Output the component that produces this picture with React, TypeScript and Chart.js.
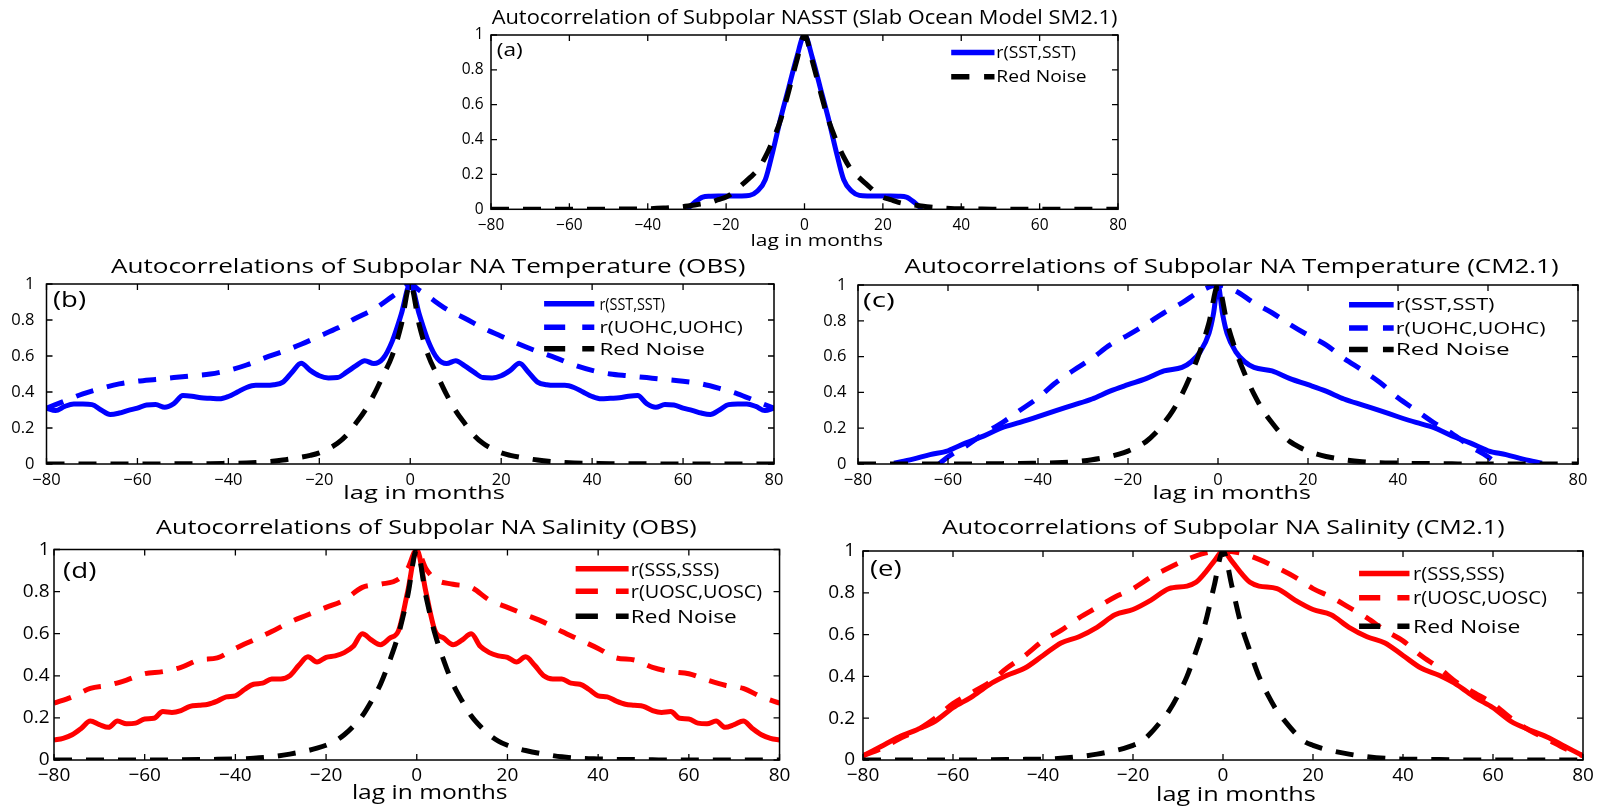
import React, { useEffect, useRef } from "react";
import { Chart, registerables } from "chart.js";

Chart.register(...registerables);

// ---------------- DATA ----------------
const RN_LAGS = [-80,-76,-72,-68,-64,-60,-56,-52,-48,-44,-40,-36,-32,-28,-24,-22,-20,-18,-16,-14,-12,-10,-8,-6,-4,-2,0,2,4,6,8,10,12,14,16,18,20,22,24,28,32,36,40,44,48,52,56,60,64,68,72,76,80];
const RN_A = [0,0,0,0,0,0,0,0.001,0.001,0.002,0.003,0.007,0.013,0.025,0.04,0.055,0.07,0.1,0.14,0.18,0.225,0.3,0.4,0.52,0.68,0.85,1,0.85,0.68,0.52,0.4,0.3,0.225,0.18,0.14,0.1,0.07,0.055,0.04,0.025,0.013,0.007,0.003,0.002,0.001,0.001,0,0,0,0,0,0,0];
const RN_B = [0,0,0,0,0,0,0,0.001,0.001,0.002,0.004,0.006,0.012,0.022,0.038,0.048,0.062,0.085,0.115,0.16,0.225,0.295,0.385,0.49,0.6,0.77,1,0.77,0.6,0.49,0.385,0.295,0.225,0.16,0.115,0.085,0.062,0.048,0.038,0.022,0.012,0.006,0.004,0.002,0.001,0.001,0,0,0,0,0,0,0];
const RN_C = [0,0,0,0,0,0,0,0.001,0.002,0.003,0.005,0.007,0.013,0.024,0.042,0.055,0.072,0.095,0.125,0.17,0.23,0.3,0.39,0.5,0.63,0.79,1,0.79,0.63,0.5,0.39,0.3,0.23,0.17,0.125,0.095,0.072,0.055,0.042,0.024,0.013,0.007,0.005,0.003,0.002,0.001,0,0,0,0,0,0,0];
const RN_D = [0,0,0,0,0,0,0,0.001,0.002,0.003,0.005,0.008,0.015,0.028,0.045,0.056,0.07,0.09,0.12,0.16,0.21,0.28,0.36,0.47,0.6,0.78,1,0.78,0.6,0.47,0.36,0.28,0.21,0.16,0.12,0.09,0.07,0.056,0.045,0.028,0.015,0.008,0.005,0.003,0.002,0.001,0,0,0,0,0,0,0];
const RN_E = [0,0,0,0,0,0,0,0.001,0.002,0.003,0.004,0.008,0.016,0.028,0.045,0.056,0.07,0.09,0.13,0.18,0.235,0.31,0.4,0.52,0.65,0.83,1,0.83,0.65,0.52,0.4,0.31,0.235,0.18,0.13,0.09,0.07,0.056,0.045,0.028,0.016,0.008,0.004,0.003,0.002,0.001,0,0,0,0,0,0,0];

const LAGS_A_SST = [-30,-28,-26,-24,-22,-20,-18,-16,-14,-12,-10,-8,-6,-4,-2,0,2,4,6,8,10,12,14,16,18,20,22,24,26,28,30];
const A_SST = [0,0.04,0.07,0.075,0.077,0.077,0.077,0.077,0.08,0.105,0.17,0.34,0.53,0.7,0.87,1,0.87,0.7,0.53,0.34,0.17,0.105,0.08,0.077,0.077,0.077,0.077,0.075,0.07,0.04,0];

const LAGS_2 = [-80,-78,-76,-74,-72,-70,-68,-66,-64,-62,-60,-58,-56,-54,-52,-50,-48,-46,-44,-42,-40,-38,-36,-34,-32,-30,-28,-26,-24,-22,-20,-18,-16,-14,-12,-10,-8,-6,-4,-2,0,2,4,6,8,10,12,14,16,18,20,22,24,26,28,30,32,34,36,38,40,42,44,46,48,50,52,54,56,58,60,62,64,66,68,70,72,74,76,78,80];
const B_SST = [0.31,0.297,0.32,0.333,0.333,0.33,0.30,0.275,0.283,0.298,0.31,0.328,0.33,0.315,0.335,0.38,0.376,0.368,0.365,0.362,0.375,0.40,0.425,0.437,0.437,0.44,0.455,0.51,0.56,0.52,0.49,0.478,0.48,0.51,0.545,0.574,0.558,0.585,0.68,0.83,1,0.83,0.68,0.585,0.558,0.574,0.545,0.51,0.48,0.478,0.49,0.52,0.56,0.51,0.455,0.44,0.437,0.437,0.425,0.40,0.375,0.362,0.365,0.368,0.376,0.38,0.335,0.315,0.33,0.328,0.31,0.298,0.283,0.275,0.30,0.33,0.333,0.333,0.32,0.297,0.31];
const D_SSS = [0.095,0.103,0.12,0.15,0.185,0.168,0.155,0.185,0.172,0.175,0.195,0.198,0.23,0.226,0.235,0.255,0.26,0.265,0.28,0.30,0.305,0.335,0.36,0.365,0.385,0.385,0.40,0.45,0.49,0.465,0.488,0.495,0.51,0.54,0.60,0.57,0.548,0.578,0.616,0.80,1,0.80,0.616,0.578,0.548,0.57,0.60,0.54,0.51,0.495,0.488,0.465,0.49,0.45,0.40,0.385,0.385,0.365,0.36,0.335,0.305,0.30,0.28,0.265,0.26,0.255,0.235,0.226,0.23,0.198,0.195,0.175,0.172,0.185,0.155,0.168,0.185,0.15,0.12,0.103,0.095];

const LAGS_4C = [-80,-76,-72,-68,-64,-60,-56,-52,-48,-44,-40,-36,-32,-28,-24,-20,-16,-12,-8,-4,-2,0,2,4,8,12,16,20,24,28,32,36,40,44,48,52,56,60,64,68,72,76,80];
const B_UOHC = [0.31,0.35,0.39,0.42,0.445,0.46,0.47,0.48,0.49,0.50,0.52,0.55,0.59,0.625,0.665,0.71,0.755,0.81,0.86,0.93,0.965,1,0.965,0.93,0.86,0.81,0.755,0.71,0.665,0.625,0.59,0.55,0.52,0.50,0.49,0.48,0.47,0.46,0.445,0.42,0.39,0.35,0.31];
const D_UOSC = [0.27,0.30,0.34,0.355,0.38,0.41,0.42,0.44,0.475,0.485,0.53,0.57,0.61,0.655,0.69,0.725,0.76,0.82,0.835,0.86,0.91,1,0.91,0.86,0.835,0.82,0.76,0.725,0.69,0.655,0.61,0.57,0.53,0.485,0.475,0.44,0.42,0.41,0.38,0.355,0.34,0.30,0.27];

const LAGS_C_SST = [-72,-68,-64,-60,-56,-52,-48,-44,-40,-36,-32,-28,-24,-20,-16,-12,-8,-6,-4,-2,-1,0,1,2,4,6,8,12,16,20,24,28,32,36,40,44,48,52,56,60,64,68,72];
const C_SST = [0.005,0.026,0.052,0.074,0.118,0.157,0.203,0.232,0.264,0.298,0.33,0.363,0.407,0.443,0.477,0.52,0.54,0.57,0.625,0.73,0.84,1,0.84,0.73,0.625,0.57,0.54,0.52,0.477,0.443,0.407,0.363,0.33,0.298,0.264,0.232,0.203,0.157,0.118,0.074,0.052,0.026,0.005];

const LAGS_C_UOHC = [-62,-60,-56,-52,-48,-44,-40,-36,-32,-28,-24,-20,-16,-12,-8,-4,0,4,8,12,16,20,24,28,32,36,40,44,48,52,56,60,62];
const C_UOHC = [0,0.04,0.10,0.17,0.23,0.30,0.37,0.455,0.525,0.59,0.665,0.72,0.78,0.845,0.9,0.965,1,0.965,0.9,0.845,0.78,0.72,0.665,0.59,0.525,0.455,0.37,0.30,0.23,0.17,0.10,0.04,0];

const LAGS_E_SSS = [-80,-76,-72,-68,-64,-60,-56,-52,-48,-44,-40,-36,-32,-28,-24,-20,-16,-12,-8,-6,-4,-2,0,2,4,6,8,12,16,20,24,28,32,36,40,44,48,52,56,60,64,68,72,76,80];
const E_SSS = [0.02,0.065,0.11,0.145,0.185,0.25,0.30,0.36,0.405,0.44,0.50,0.56,0.59,0.635,0.695,0.72,0.765,0.82,0.832,0.85,0.895,0.95,1,0.95,0.895,0.85,0.832,0.82,0.765,0.72,0.695,0.635,0.59,0.56,0.50,0.44,0.405,0.36,0.30,0.25,0.185,0.145,0.11,0.065,0.02];

const LAGS_4 = [-80,-76,-72,-68,-64,-60,-56,-52,-48,-44,-40,-36,-32,-28,-24,-20,-16,-12,-8,-4,0,4,8,12,16,20,24,28,32,36,40,44,48,52,56,60,64,68,72,76,80];
const E_UOSC = [0.02,0.055,0.10,0.143,0.20,0.27,0.32,0.37,0.44,0.50,0.57,0.62,0.68,0.73,0.78,0.82,0.875,0.92,0.96,0.99,1,0.99,0.96,0.92,0.875,0.82,0.78,0.73,0.68,0.62,0.57,0.50,0.44,0.37,0.32,0.27,0.20,0.143,0.10,0.055,0.02];

const X_TICKS = [-80, -60, -40, -20, 0, 20, 40, 60, 80];
const Y_TICKS = [0, 0.2, 0.4, 0.6, 0.8, 1];

// ---------------- STYLE / LAYOUT ----------------
const FONT = '"Open Sans", "Liberation Sans", Arial, sans-serif';
const BLUE = "#0000ff";
const RED = "#ff0000";
const BLACK = "#000000";

const PANELS = [
  {
    key: "a",
    canvas: { x: 440, y: 0, w: 700, h: 256 },
    plot: { l: 491, t: 35, r: 1118, b: 209.3 },
    tick: { size: 15.5, xPad: 6.8, yPad: 7.5 },
    title: { text: "Autocorrelation of Subpolar NASST (Slab Ocean Model SM2.1)", size: 20.5, span: [0.001, 0.999], baseline: 24 },
    xTitle: { size: 16, span: [0.4138, 0.625], baseline: 246 },
    label: { text: "(a)", dx: 5.7, w: 26, dy: 21.4, size: 18 },
    legend: { line: [0.734, 0.803], text: 0.806, size: 15.5, items: [
      { label: "r(SST,SST)", row: 0.9, end: 0.933 },
      { label: "Red Noise", row: 0.76, end: 0.95 },
    ] },
    series: [
      { label: "r(SST,SST)", lags: LAGS_A_SST, vals: A_SST, color: BLUE, dashed: false },
      { label: "Red Noise", lags: RN_LAGS, vals: RN_A, color: BLACK, dashed: true },
    ],
  },
  {
    key: "b",
    canvas: { x: 0, y: 250, w: 790, h: 260 },
    plot: { l: 46.5, t: 284, r: 774, b: 464 },
    tick: { size: 16.5, xPad: 6, yPad: 12 },
    title: { text: "Autocorrelations of Subpolar NA Temperature (OBS)", size: 19.5, span: [0.0886, 0.9606], baseline: 273 },
    xTitle: { size: 18, span: [0.408, 0.63], baseline: 499 },
    label: { text: "(b)", dx: 6.5, w: 33, dy: 23, size: 21 },
    legend: { line: [0.684, 0.753], text: 0.76, size: 16, items: [
      { label: "r(SST,SST)", row: 0.89, end: 0.85 },
      { label: "r(UOHC,UOHC)", row: 0.76, end: 0.957 },
      { label: "Red Noise", row: 0.64, end: 0.905 },
    ] },
    series: [
      { label: "r(SST,SST)", lags: LAGS_2, vals: B_SST, color: BLUE, dashed: false },
      { label: "r(UOHC,UOHC)", lags: LAGS_4C, vals: B_UOHC, color: BLUE, dashed: true },
      { label: "Red Noise", lags: RN_LAGS, vals: RN_B, color: BLACK, dashed: true },
    ],
  },
  {
    key: "c",
    canvas: { x: 800, y: 250, w: 799, h: 260 },
    plot: { l: 858, t: 285, r: 1578, b: 464 },
    tick: { size: 16.5, xPad: 6, yPad: 11.5 },
    title: { text: "Autocorrelations of Subpolar NA Temperature (CM2.1)", size: 19.5, span: [0.0647, 0.973], baseline: 273 },
    xTitle: { size: 18, span: [0.409, 0.629], baseline: 499 },
    label: { text: "(c)", dx: 5, w: 31.7, dy: 22.3, size: 20 },
    legend: { line: [0.682, 0.744], text: 0.747, size: 16, items: [
      { label: "r(SST,SST)", row: 0.89, end: 0.884 },
      { label: "r(UOHC,UOHC)", row: 0.76, end: 0.955 },
      { label: "Red Noise", row: 0.64, end: 0.905 },
    ] },
    series: [
      { label: "r(SST,SST)", lags: LAGS_C_SST, vals: C_SST, color: BLUE, dashed: false },
      { label: "r(UOHC,UOHC)", lags: LAGS_C_UOHC, vals: C_UOHC, color: BLUE, dashed: true },
      { label: "Red Noise", lags: RN_LAGS, vals: RN_C, color: BLACK, dashed: true },
    ],
  },
  {
    key: "d",
    canvas: { x: 0, y: 510, w: 795, h: 300 },
    plot: { l: 54, t: 549.5, r: 782, b: 760 },
    tick: { size: 19, xPad: 4.6, yPad: 4.5 },
    title: { text: "Autocorrelations of Subpolar NA Salinity (OBS)", size: 20.5, span: [0.1407, 0.8857], baseline: 534 },
    xTitle: { size: 20, span: [0.4106, 0.625], baseline: 799 },
    label: { text: "(d)", dx: 9, w: 33.3, dy: 28, size: 21 },
    legend: { line: [0.719, 0.792], text: 0.795, size: 18.5, items: [
      { label: "r(SSS,SSS)", row: 0.908, end: 0.917 },
      { label: "r(UOSC,UOSC)", row: 0.802, end: 0.976 },
      { label: "Red Noise", row: 0.683, end: 0.941 },
    ] },
    series: [
      { label: "r(SSS,SSS)", lags: LAGS_2, vals: D_SSS, color: RED, dashed: false },
      { label: "r(UOSC,UOSC)", lags: LAGS_4C, vals: D_UOSC, color: RED, dashed: true },
      { label: "Red Noise", lags: RN_LAGS, vals: RN_D, color: BLACK, dashed: true },
    ],
  },
  {
    key: "e",
    canvas: { x: 805, y: 510, w: 794, h: 300 },
    plot: { l: 863, t: 551, r: 1583, b: 760 },
    tick: { size: 19, xPad: 4.6, yPad: 8 },
    title: { text: "Autocorrelations of Subpolar NA Salinity (CM2.1)", size: 20.5, span: [0.1097, 0.891], baseline: 534 },
    xTitle: { size: 20, span: [0.407, 0.629], baseline: 801 },
    label: { text: "(e)", dx: 7, w: 31.7, dy: 25, size: 21 },
    legend: { line: [0.689, 0.759], text: 0.764, size: 18.5, items: [
      { label: "r(SSS,SSS)", row: 0.892, end: 0.891 },
      { label: "r(UOSC,UOSC)", row: 0.776, end: 0.95 },
      { label: "Red Noise", row: 0.64, end: 0.913 },
    ] },
    series: [
      { label: "r(SSS,SSS)", lags: LAGS_E_SSS, vals: E_SSS, color: RED, dashed: false },
      { label: "r(UOSC,UOSC)", lags: LAGS_4, vals: E_UOSC, color: RED, dashed: true },
      { label: "Red Noise", lags: RN_LAGS, vals: RN_E, color: BLACK, dashed: true },
    ],
  },
];

function fitText(ctx: any, text: string, x0: number, x1: number, baseline: number, size: number) {
  ctx.save();
  ctx.font = `${size}px ${FONT}`;
  const w = ctx.measureText(text).width;
  const sx = w > 0 ? (x1 - x0) / w : 1;
  ctx.translate(x0, baseline);
  ctx.scale(sx, 1);
  ctx.textAlign = "left";
  ctx.textBaseline = "alphabetic";
  ctx.fillStyle = "#000";
  ctx.fillText(text, 0, 0);
  ctx.restore();
}

function makeDecor(p: any) {
  return {
    id: "decor_" + p.key,
    afterDatasetsDraw(chart: any) {
      const ctx = chart.ctx;
      const ca = chart.chartArea;
      const xs = chart.scales.x;
      const ys = chart.scales.y;
      const w = ca.right - ca.left;
      const oy = p.canvas.y;
      ctx.save();
      ctx.setLineDash([]);
      // frame
      ctx.strokeStyle = "#000";
      ctx.lineWidth = 1.5;
      ctx.strokeRect(ca.left, ca.top, w, ca.bottom - ca.top);
      // inward ticks on all four sides
      ctx.lineWidth = 1.3;
      const tl = 6;
      ctx.beginPath();
      xs.ticks.forEach((t: any) => {
        const px = xs.getPixelForValue(t.value);
        ctx.moveTo(px, ca.bottom);
        ctx.lineTo(px, ca.bottom - tl);
        ctx.moveTo(px, ca.top);
        ctx.lineTo(px, ca.top + tl);
      });
      ys.ticks.forEach((t: any) => {
        const py = ys.getPixelForValue(t.value);
        ctx.moveTo(ca.left, py);
        ctx.lineTo(ca.left + tl, py);
        ctx.moveTo(ca.right, py);
        ctx.lineTo(ca.right - tl, py);
      });
      ctx.stroke();
      // legend
      const lg = p.legend;
      lg.items.forEach((it: any) => {
        const ds = chart.data.datasets.find((d: any) => d.label === it.label);
        const y = ys.getPixelForValue(it.row);
        const x0 = ca.left + lg.line[0] * w;
        const x1 = ca.left + lg.line[1] * w;
        ctx.beginPath();
        ctx.strokeStyle = ds.borderColor;
        ctx.lineWidth = 5.5;
        ctx.lineCap = "butt";
        ctx.setLineDash(ds.borderDash && ds.borderDash.length ? [(x1 - x0) * 0.42, (x1 - x0) * 0.34] : []);
        ctx.moveTo(x0, y);
        ctx.lineTo(x1, y);
        ctx.stroke();
        ctx.setLineDash([]);
        fitText(ctx, it.label, ca.left + lg.text * w, ca.left + it.end * w, y + 0.36 * lg.size, lg.size);
      });
      // panel label
      fitText(ctx, p.label.text, ca.left + p.label.dx, ca.left + p.label.dx + p.label.w, ca.top + p.label.dy, p.label.size);
      // title
      fitText(ctx, p.title.text, ca.left + p.title.span[0] * w, ca.left + p.title.span[1] * w, p.title.baseline - oy, p.title.size);
      // x axis title
      fitText(ctx, "lag in months", ca.left + p.xTitle.span[0] * w, ca.left + p.xTitle.span[1] * w, p.xTitle.baseline - oy, p.xTitle.size);
      ctx.restore();
    },
  };
}

function buildChart(canvas: HTMLCanvasElement, p: any) {
  const padL = p.plot.l - p.canvas.x;
  const padT = p.plot.t - p.canvas.y;
  const padR = p.canvas.x + p.canvas.w - p.plot.r;
  const padB = p.canvas.y + p.canvas.h - p.plot.b;
  const order = (s: any) => (s.color === BLACK ? 0 : s.dashed ? 2 : 1);
  return new Chart(canvas, {
    type: "line",
    data: {
      datasets: p.series.map((s: any) => ({
        label: s.label,
        data: s.lags.map((x: number, i: number) => ({ x, y: s.vals[i] })),
        borderColor: s.color,
        backgroundColor: s.color,
        borderWidth: 5,
        borderDash: s.dashed ? [18, 14] : [],
        borderCapStyle: "butt",
        borderJoinStyle: "round",
        pointRadius: 0,
        fill: false,
        cubicInterpolationMode: "monotone",
        order: order(s),
      })),
    },
    options: {
      animation: false,
      responsive: false,
      devicePixelRatio: 1,
      events: [],
      layout: { padding: { left: 0, top: padT, right: padR, bottom: 0 }, autoPadding: false },
      plugins: { legend: { display: false }, title: { display: false }, tooltip: { enabled: false } },
      scales: {
        x: {
          type: "linear",
          min: -80,
          max: 80,
          grid: { display: false, drawTicks: false },
          border: { display: false },
          afterBuildTicks: (s: any) => { s.ticks = X_TICKS.map((v) => ({ value: v })); },
          ticks: {
            autoSkip: false,
            maxRotation: 0,
            padding: p.tick.xPad,
            color: "#000",
            font: { family: FONT, size: p.tick.size },
            callback: (v: any) => String(v).replace("-", "\u2212"),
          },
          afterFit: (s: any) => { s.height = padB; },
        },
        y: {
          type: "linear",
          min: 0,
          max: 1,
          grid: { display: false, drawTicks: false },
          border: { display: false },
          afterBuildTicks: (s: any) => { s.ticks = Y_TICKS.map((v) => ({ value: v })); },
          ticks: {
            autoSkip: false,
            padding: p.tick.yPad,
            color: "#000",
            font: { family: FONT, size: p.tick.size },
            callback: (v: any) => (v === 0 ? "0" : v === 1 ? "1" : Number(v).toFixed(1)),
          },
          afterFit: (s: any) => { s.width = padL; },
        },
      },
    },
    plugins: [makeDecor(p)],
  } as any);
}

function Panel({ p }: { p: any }) {
  const ref = useRef<HTMLCanvasElement | null>(null);
  useEffect(() => {
    if (!ref.current) return;
    const chart = buildChart(ref.current, p);
    return () => chart.destroy();
  }, []);
  return (
    <canvas
      ref={ref}
      width={p.canvas.w}
      height={p.canvas.h}
      style={{ position: "absolute", left: p.canvas.x, top: p.canvas.y, width: p.canvas.w + "px", height: p.canvas.h + "px" }}
    />
  );
}

export default function App() {
  return (
    <div style={{ position: "absolute", left: 0, top: 0, width: 1599, height: 810, background: "#fff", overflow: "hidden" }}>
      {PANELS.map((p) => (
        <Panel key={p.key} p={p} />
      ))}
    </div>
  );
}
